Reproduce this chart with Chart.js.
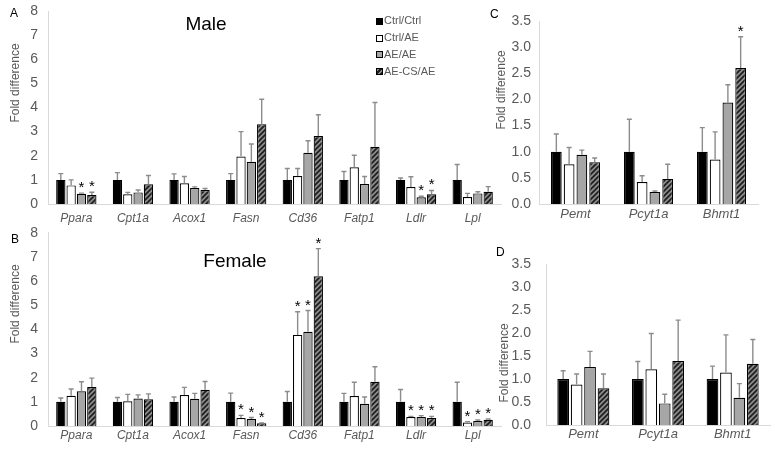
<!DOCTYPE html>
<html>
<head>
<meta charset="utf-8">
<script src="https://cdn.jsdelivr.net/npm/chart.js@4.4.0/dist/chart.umd.min.js"></script>
<style>
  body { margin: 0; background: #fff; font-family: "Liberation Sans", Arial, sans-serif; }
  #fig { position: relative; width: 775px; height: 453px; overflow: hidden; background: #fff; }
  #fig canvas { position: absolute; }
  .txt { position: absolute; white-space: nowrap; line-height: 1; }
  .letter { font-size: 12px; color: #000; }
  .ytitle { font-size: 12px; color: #595959; transform: translate(-50%, -50%) rotate(-90deg); }
  .big { font-size: 19px; color: #000; transform: translate(-50%, -50%); }
  .legtxt { font-size: 11px; color: #595959; }
  .sq { position: absolute; width: 5px; height: 5px; border: 1px solid #000; }
</style>
</head>
<body>
<div id="fig">
  <canvas id="chartA" width="505" height="228" style="left:0;top:0"></canvas>
  <canvas id="chartB" width="505" height="231" style="left:0;top:222px"></canvas>
  <canvas id="chartC" width="285" height="228" style="left:490px;top:0"></canvas>
  <canvas id="chartD" width="285" height="231" style="left:490px;top:222px"></canvas>

  <div class="txt letter" style="left:10px;top:7px">A</div>
  <div class="txt letter" style="left:11px;top:233px">B</div>
  <div class="txt letter" style="left:490px;top:8px">C</div>
  <div class="txt letter" style="left:496px;top:246px">D</div>

  <div class="txt ytitle" style="left:15px;top:83px">Fold difference</div>
  <div class="txt ytitle" style="left:15px;top:304px">Fold difference</div>
  <div class="txt ytitle" style="left:501px;top:90px">Fold difference</div>
  <div class="txt ytitle" style="left:504px;top:363px">Fold difference</div>

  <div class="txt big" style="left:206px;top:23px">Male</div>
  <div class="txt big" style="left:235px;top:260px">Female</div>

  <div id="legend"></div>
</div>

<script>
// categories
var lipidGenes = ["Ppara", "Cpt1a", "Acox1", "Fasn", "Cd36", "Fatp1", "Ldlr", "Lpl"];
var cholineGenes = ["Pemt", "Pcyt1a", "Bhmt1"];
var groups = ["Ctrl/Ctrl", "Ctrl/AE", "AE/AE", "AE-CS/AE"];

// A - male, lipid genes (one row per group)
var maleMean = [
    [1.00, 1.00, 1.00, 1.00, 1.00, 1.00, 1.00, 1.00],
    [0.77, 0.40, 0.86, 1.97, 1.16, 1.52, 0.70, 0.29],
    [0.42, 0.48, 0.66, 1.75, 2.12, 0.83, 0.28, 0.44],
    [0.37, 0.82, 0.58, 3.31, 2.82, 2.37, 0.40, 0.51]
];
var maleErr = [
    [0.26, 0.30, 0.25, 0.26, 0.47, 0.35, 0.08, 0.64],
    [0.23, 0.08, 0.28, 1.03, 0.31, 0.50, 0.43, 0.15],
    [0.03, 0.10, 0.05, 0.74, 0.50, 0.31, 0.04, 0.07],
    [0.12, 0.36, 0.06, 1.03, 0.88, 1.84, 0.16, 0.21]
];
var maleStar = [
    [0, 0, 0, 0, 0, 0, 0, 0],
    [0, 0, 0, 0, 0, 0, 0, 0],
    [1, 0, 0, 0, 0, 0, 1, 0],
    [1, 0, 0, 0, 0, 0, 1, 0]
];

// B - female, lipid genes
var femaleMean = [
    [1.00, 1.00, 1.00, 1.00, 1.00, 1.00, 1.00, 1.00],
    [1.25, 1.02, 1.28, 0.33, 3.77, 1.24, 0.37, 0.14],
    [1.44, 1.14, 1.13, 0.29, 3.90, 0.92, 0.37, 0.21],
    [1.61, 1.11, 1.50, 0.11, 6.20, 1.83, 0.33, 0.26]
];
var femaleErr = [
    [0.16, 0.18, 0.20, 0.36, 0.43, 0.35, 0.51, 0.81],
    [0.28, 0.29, 0.32, 0.11, 0.96, 0.57, 0.03, 0.04],
    [0.39, 0.15, 0.22, 0.06, 0.88, 0.28, 0.06, 0.04],
    [0.37, 0.22, 0.34, 0.02, 1.14, 0.62, 0.07, 0.03]
];
var femaleStar = [
    [0, 0, 0, 0, 0, 0, 0, 0],
    [0, 0, 0, 1, 1, 0, 1, 1],
    [0, 0, 0, 1, 1, 0, 1, 1],
    [0, 0, 0, 1, 1, 0, 1, 1]
];

// C - choline genes, top
var cholineTopMean = [
    [1.00, 1.00, 1.00],
    [0.76, 0.42, 0.85],
    [0.94, 0.23, 1.94],
    [0.80, 0.48, 2.60]
];
var cholineTopErr = [
    [0.34, 0.62, 0.46],
    [0.32, 0.12, 0.53],
    [0.09, 0.02, 0.34],
    [0.08, 0.28, 0.60]
];
var cholineTopStar = [
    [0, 0, 0],
    [0, 0, 0],
    [0, 0, 0],
    [0, 0, 1]
];

// D - choline genes, bottom
var cholineBotMean = [
    [1.00, 1.00, 1.00],
    [0.88, 1.21, 1.14],
    [1.26, 0.47, 0.59],
    [0.80, 1.39, 1.33]
];
var cholineBotErr = [
    [0.18, 0.38, 0.28],
    [0.23, 0.78, 0.82],
    [0.34, 0.20, 0.31],
    [0.31, 0.89, 0.53]
];
var cholineBotStar = [
    [0, 0, 0],
    [0, 0, 0],
    [0, 0, 0],
    [0, 0, 0]
];

var FONT = '"Liberation Sans", Arial, sans-serif';
var TXT = "#595959";
var AXIS = "#d9d9d9";

function hatch(ctx) {
    var c = document.createElement("canvas");
    c.width = 5; c.height = 5;
    var g = c.getContext("2d");
    g.fillStyle = "#8c8c8c";
    g.fillRect(0, 0, 5, 5);
    g.strokeStyle = "#1e1e1e";
    g.lineWidth = 1.7;
    g.beginPath();
    g.moveTo(-1, 6); g.lineTo(6, -1);
    g.moveTo(-1, 1); g.lineTo(1, -1);
    g.moveTo(4, 6); g.lineTo(6, 4);
    g.stroke();
    return ctx.createPattern(c, "repeat");
}

// upward error bars + significance stars
var errorBars = {
    id: "errorBars",
    afterDatasetsDraw: function (chart) {
        var ctx = chart.ctx;
        var y = chart.scales.y;
        chart.data.datasets.forEach(function (ds, i) {
            var meta = chart.getDatasetMeta(i);
            meta.data.forEach(function (bar, j) {
                var top = y.getPixelForValue(ds.data[j] + ds.errors[j]);
                ctx.save();
                ctx.strokeStyle = "#8c8c8c";
                ctx.lineWidth = 1.4;
                ctx.beginPath();
                ctx.moveTo(bar.x, bar.y);
                ctx.lineTo(bar.x, top);
                ctx.moveTo(bar.x - 2.5, top);
                ctx.lineTo(bar.x + 2.5, top);
                ctx.stroke();
                if (ds.stars[j]) {
                    ctx.fillStyle = "#000";
                    ctx.font = "15px " + FONT;
                    ctx.textAlign = "center";
                    ctx.textBaseline = "alphabetic";
                    ctx.fillText("*", bar.x, top - 1);
                }
                ctx.restore();
            });
        });
    }
};

function makeChart(id, labels, mean, err, star, o) {
    var canvas = document.getElementById(id);
    var ctx = canvas.getContext("2d");
    var fills = ["#000000", "#ffffff", "#a6a6a6", hatch(ctx)];
    var datasets = groups.map(function (name, k) {
        return {
            label: name,
            data: mean[k],
            errors: err[k],
            stars: star[k],
            backgroundColor: fills[k],
            borderColor: "#000000",
            borderWidth: 1.2,
            categoryPercentage: o.cat,
            barPercentage: o.bar
        };
    });
    return new Chart(ctx, {
        type: "bar",
        data: { labels: labels, datasets: datasets },
        options: {
            responsive: false,
            animation: false,
            layout: { autoPadding: false, padding: { left: 0, top: o.top, right: o.right, bottom: 0 } },
            plugins: { legend: { display: false }, tooltip: { enabled: false } },
            scales: {
                x: {
                    grid: { display: false, drawTicks: false },
                    border: { display: true, color: AXIS, width: 1 },
                    ticks: {
                        color: TXT, padding: o.xPad, autoSkip: false, maxRotation: 0,
                        font: { family: FONT, size: o.xFont, style: "italic" }
                    },
                    afterFit: function (s) { s.height = o.xH; }
                },
                y: {
                    min: 0, max: o.yMax,
                    grid: { display: false, drawTicks: false },
                    border: { display: true, color: AXIS, width: 1 },
                    ticks: {
                        stepSize: o.step, color: TXT, padding: o.yPad,
                        // tiny line height keeps the label padding from pushing the plot top down
                        font: { family: FONT, size: 14, lineHeight: 0.1 },
                        callback: function (v) { return o.step < 1 ? v.toFixed(1) : v; }
                    },
                    afterFit: function (s) { s.width = o.yW; }
                }
            }
        },
        plugins: [errorBars]
    });
}

makeChart("chartA", lipidGenes, maleMean, maleErr, maleStar,
    { top: 11, right: 4, yW: 48, xH: 24, xPad: 7, yPad: 10, yMax: 8, step: 1, xFont: 12, cat: 0.73, bar: 0.9 });
makeChart("chartB", lipidGenes, femaleMean, femaleErr, femaleStar,
    { top: 10, right: 4, yW: 48, xH: 27, xPad: 2, yPad: 10, yMax: 8, step: 1, xFont: 12, cat: 0.73, bar: 0.9 });
makeChart("chartC", cholineGenes, cholineTopMean, cholineTopErr, cholineTopStar,
    { top: 21, right: 17, yW: 49, xH: 24, xPad: 3, yPad: 8, yMax: 3.5, step: 0.5, xFont: 13, cat: 0.70, bar: 0.84 });
makeChart("chartD", cholineGenes, cholineBotMean, cholineBotErr, cholineBotStar,
    { top: 42, right: 5, yW: 56, xH: 28, xPad: 2, yPad: 15, yMax: 3.5, step: 0.5, xFont: 13, cat: 0.72, bar: 0.87 });

// legend (panel A), built from the group names
var legendRows = [21, 38, 54.5, 71.5];
var legendFill = ["#000", "#fff", "#a6a6a6",
    "repeating-linear-gradient(-45deg, #1e1e1e 0 1.5px, #8c8c8c 1.5px 3.5px)"];
var leg = document.getElementById("legend");
groups.forEach(function (name, k) {
    var sq = document.createElement("div");
    sq.className = "sq";
    sq.style.left = "376px";
    sq.style.top = (legendRows[k] - 3.5) + "px";
    sq.style.background = legendFill[k];
    leg.appendChild(sq);
    var t = document.createElement("div");
    t.className = "txt legtxt";
    t.style.left = "384px";
    t.style.top = (legendRows[k] - 6) + "px";
    t.textContent = name;
    leg.appendChild(t);
});
</script>
</body>
</html>
